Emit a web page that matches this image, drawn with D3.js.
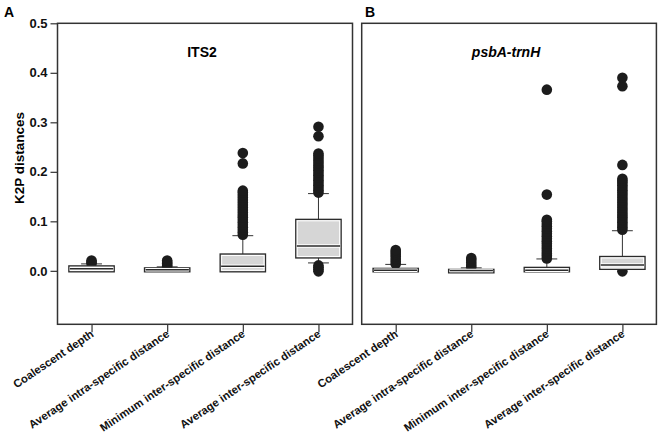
<!DOCTYPE html>
<html>
<head>
<meta charset="utf-8">
<script src="https://cdn.jsdelivr.net/npm/d3@7"></script>
<style>
  html, body { margin: 0; padding: 0; background: #fff; }
  svg { display: block; font-family: "Liberation Sans", Arial, sans-serif; }
  .axis path { display: none; }
  .axis line { stroke: #333; stroke-width: 1.2; }
  .axis text { font-weight: bold; fill: #111; }
</style>
</head>
<body>
<svg id="svg" width="661" height="439"></svg>
<script>
// categories + tick values
const categories = [
  'Coalescent depth',
  'Average intra-specific distance',
  'Minimum inter-specific distance',
  'Average inter-specific distance'
];
const yTicks = [0, 0.1, 0.2, 0.3, 0.4, 0.5];

// box stats per category: [lower whisker, q1, median, q3, upper whisker]
const its2Box = [
  [0.000, 0.000, 0.004, 0.008, 0.014],
  [0.000, 0.000, 0.002, 0.004, 0.008],
  [0.000, 0.000, 0.0095, 0.032, 0.071],
  [0.016, 0.028, 0.050, 0.102, 0.156]
];
const psbaBox = [
  [0.000, 0.000, 0.001, 0.003, 0.013],
  [0.000, 0.000, 0.0005, 0.001, 0.006],
  [0.000, 0.000, 0.001, 0.005, 0.024],
  [0.004, 0.005, 0.012, 0.027, 0.081]
];

// outliers per category
const its2Outliers = [
  [0.015, 0.018, 0.021],
  [0.009, 0.012, 0.015, 0.018, 0.021],
  [0.073, 0.078, 0.083, 0.088, 0.093, 0.098, 0.103, 0.108, 0.113, 0.118, 0.123,
   0.128, 0.133, 0.138, 0.143, 0.148, 0.153, 0.158, 0.162, 0.217, 0.238],
  [-0.001, 0.003, 0.007, 0.011,
   0.158, 0.163, 0.168, 0.173, 0.178, 0.183, 0.188, 0.193, 0.198, 0.203, 0.208,
   0.213, 0.218, 0.223, 0.228, 0.233, 0.237, 0.272, 0.291]
];
const psbaOutliers = [
  [0.014, 0.019, 0.024, 0.029, 0.034, 0.038, 0.042],
  [0.007, 0.012, 0.017, 0.022, 0.026],
  [0.025, 0.030, 0.035, 0.040, 0.045, 0.050, 0.055, 0.060, 0.065, 0.070, 0.075,
   0.080, 0.085, 0.090, 0.095, 0.100, 0.103, 0.154, 0.366],
  [-0.001,
   0.083, 0.088, 0.093, 0.098, 0.103, 0.108, 0.113, 0.118, 0.123, 0.128, 0.133,
   0.138, 0.143, 0.148, 0.153, 0.158, 0.163, 0.168, 0.173, 0.178, 0.182, 0.186,
   0.214, 0.373, 0.390]
];

const svg = d3.select('#svg');
const plotTop = 23.3, plotBottom = 324.3;

const y = d3.scaleLinear().domain([-0.108, 0.5]).range([plotBottom, plotTop]);

const panels = [
  {letter: 'A', letterX: 4, title: 'ITS2', italic: false, left: 57.5, right: 352.5, box: its2Box, out: its2Outliers, yaxis: true},
  {letter: 'B', letterX: 365, title: 'psbA-trnH', italic: true, left: 361.7, right: 656.4, box: psbaBox, out: psbaOutliers, yaxis: false}
];

panels.forEach(p => {
  const x = d3.scalePoint().domain(categories).range([p.left, p.right]).padding(0.45);
  const bw = x.step() * 0.6;
  const cw = bw * 0.46;
  const g = svg.append('g');

  // x axis with rotated labels
  g.append('g').attr('class', 'axis')
    .attr('transform', `translate(0,${plotBottom})`)
    .call(d3.axisBottom(x).tickSize(8))
    .selectAll('text')
      .attr('x', 0).attr('y', 0).attr('dy', 0)
      .attr('transform', 'translate(2.5,11.5) rotate(-34)')
      .style('text-anchor', 'end')
      .style('font-size', '11.3px');

  if (p.yaxis) {
    g.append('g').attr('class', 'axis')
      .attr('transform', `translate(${p.left},0)`)
      .call(d3.axisLeft(y).tickValues(yTicks).tickFormat(d3.format('.1f')).tickSize(7).tickPadding(3))
      .selectAll('text').style('font-size', '13px');
  }

  const data = categories.map((c, i) => ({c, s: p.box[i], o: p.out[i]}));

  // whiskers + caps
  const wg = g.append('g').attr('stroke', '#333').attr('stroke-width', 1);
  data.forEach(d => {
    const cx = x(d.c);
    const [lo, q1, , q3, hi] = d.s;
    wg.append('line').attr('x1', cx).attr('x2', cx).attr('y1', y(q3)).attr('y2', y(hi));
    wg.append('line').attr('x1', cx).attr('x2', cx).attr('y1', y(q1)).attr('y2', y(lo));
    wg.append('line').attr('x1', cx - cw / 2).attr('x2', cx + cw / 2).attr('y1', y(hi)).attr('y2', y(hi));
    wg.append('line').attr('x1', cx - cw / 2).attr('x2', cx + cw / 2).attr('y1', y(lo)).attr('y2', y(lo));
  });

  // outliers
  data.forEach(d => {
    g.append('g').selectAll('circle')
      .data(d.o).join('circle')
        .attr('cx', x(d.c)).attr('cy', v => y(v)).attr('r', 5.3)
        .attr('fill', '#1c1c1c');
  });

  // boxes
  data.forEach(d => {
    const cx = x(d.c);
    const [, q1, med, q3] = d.s;
    const y0 = y(q3), y1 = y(q1);
    const h = Math.max(y1 - y0, 1.5);
    g.append('rect')
      .attr('x', cx - bw / 2).attr('y', y0 - 1).attr('width', bw).attr('height', h + 2)
      .attr('fill', '#d6d6d6').attr('stroke', '#2b2b2b').attr('stroke-width', 1.3);
    g.append('rect')
      .attr('x', cx - bw / 2 + 1.5).attr('y', y0 + 0.5).attr('width', bw - 3).attr('height', Math.max(h - 1, 0.5))
      .attr('fill', 'none').attr('stroke', '#fff').attr('stroke-width', 1);
    g.append('line')
      .attr('x1', cx - bw / 2 + 1).attr('x2', cx + bw / 2 - 1).attr('y1', y(med)).attr('y2', y(med))
      .attr('stroke', '#fff').attr('stroke-width', 3.5);
    g.append('line')
      .attr('x1', cx - bw / 2 + 1).attr('x2', cx + bw / 2 - 1).attr('y1', y(med)).attr('y2', y(med))
      .attr('stroke', '#2b2b2b').attr('stroke-width', 1.5);
  });

  // frame
  g.append('rect')
    .attr('x', p.left).attr('y', plotTop).attr('width', p.right - p.left).attr('height', plotBottom - plotTop)
    .attr('fill', 'none').attr('stroke', '#333').attr('stroke-width', 1.5);

  // panel title + letter
  g.append('text')
    .attr('x', (p.left + p.right) / 2 - 3).attr('y', 56.5)
    .attr('text-anchor', 'middle')
    .style('font-size', '14px').style('font-weight', 'bold')
    .style('font-style', p.italic ? 'italic' : 'normal')
    .text(p.title);
  g.append('text')
    .attr('x', p.letterX).attr('y', 17)
    .style('font-size', '14px').style('font-weight', 'bold')
    .text(p.letter);
});

// y axis title
svg.append('text')
  .attr('transform', 'translate(24,158) rotate(-90)')
  .attr('text-anchor', 'middle')
  .style('font-size', '13.5px').style('font-weight', 'bold')
  .text('K2P distances');
</script>
</body>
</html>
